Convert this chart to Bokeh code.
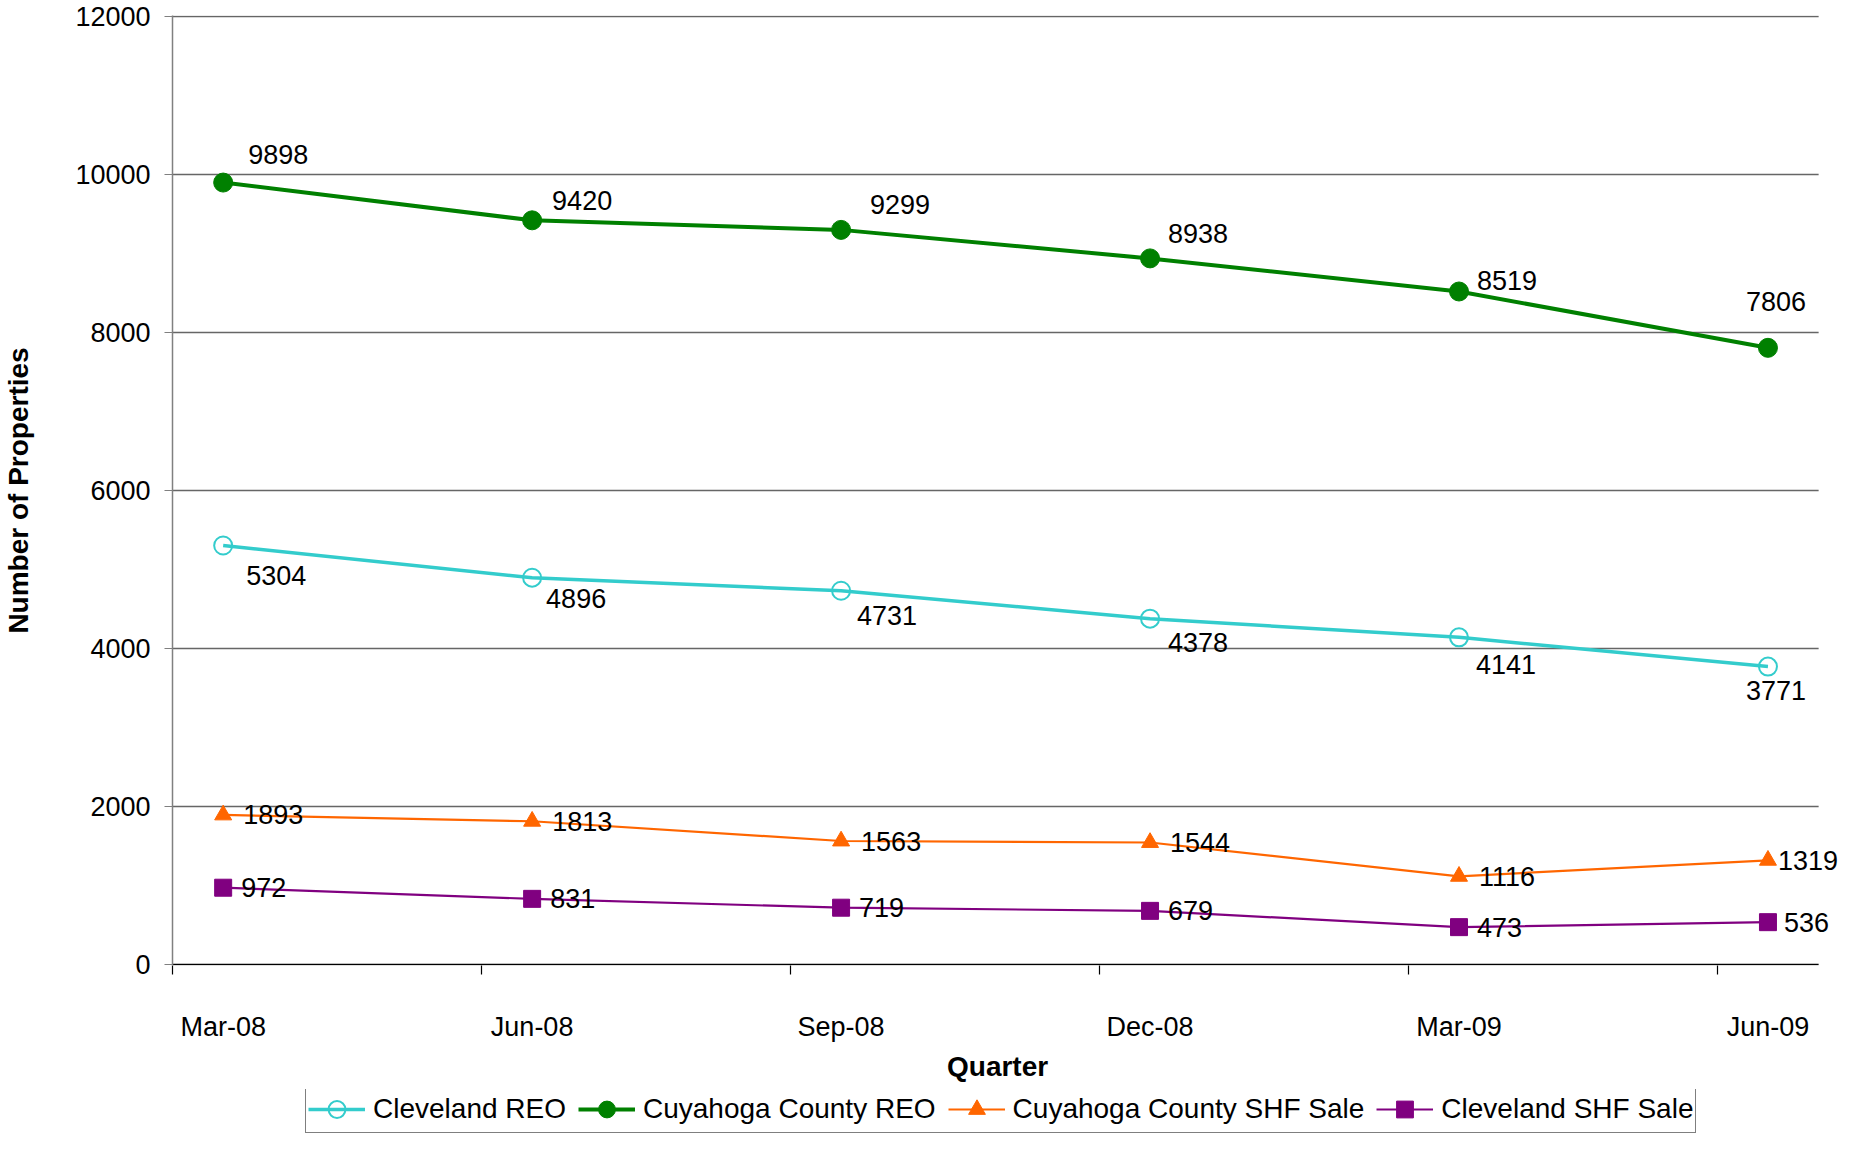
from bokeh.plotting import figure
from bokeh.layouts import column
from bokeh.models import (Range1d, FixedTicker, Legend, LegendItem, NumeralTickFormatter,
                          ColumnDataSource, LabelSet, Title)
from bokeh.core.properties import value
from bokeh.embed import file_html
from bokeh.resources import INLINE

quarters = ["Mar-08", "Jun-08", "Sep-08", "Dec-08", "Mar-09", "Jun-09"]
cleveland_reo = [5304, 4896, 4731, 4378, 4141, 3771]
cuyahoga_reo = [9898, 9420, 9299, 8938, 8519, 7806]
cuyahoga_shf = [1893, 1813, 1563, 1544, 1116, 1319]
cleveland_shf = [972, 831, 719, 679, 473, 536]
y_ticks = [0, 2000, 4000, 6000, 8000, 10000, 12000]
series_names = ["Cleveland REO", "Cuyahoga County REO", "Cuyahoga County SHF Sale", "Cleveland SHF Sale"]

FONT = "Liberation Sans"
x = list(range(len(quarters)))
pad = 0.164                      # gap between first tick mark and first point (category units)
px_per_unit = 311.0              # horizontal scale
EXTRA_RIGHT = 20                 # frame continues past the axis end so that labels fit
x_start = -pad
x_end_axis = len(quarters) - 1 + pad
x_end = x_end_axis + EXTRA_RIGHT / px_per_unit
y_px = 12000 / 949.0             # one pixel in data units

W = 1838
H_MAIN = 1089
H_LEG = 44

p = figure(width=W, height=H_MAIN, output_backend="svg", toolbar_location=None,
           x_range=Range1d(x_start, x_end), y_range=Range1d(-y_px, 12000 + y_px),
           min_border_left=161, min_border_right=0, min_border_top=15, min_border_bottom=124)
p.outline_line_color = None
p.background_fill_color = "white"
p.xgrid.visible = False
p.ygrid.visible = False

# x axis
xa = p.xaxis[0]
xa.ticker = FixedTicker(ticks=x, minor_ticks=[i - pad for i in x])
xa.major_label_overrides = {i: q for i, q in zip(x, quarters)}
xa.major_tick_line_color = None
xa.major_tick_out = 0
xa.major_tick_in = 0
xa.minor_tick_line_color = "black"
xa.minor_tick_line_width = 1.2
xa.minor_tick_out = 9
xa.minor_tick_in = 0
xa.axis_line_color = None
xa.major_label_standoff = 37
xa.major_label_text_font = FONT
xa.major_label_text_font_size = "27px"
xa.major_label_text_color = "black"

# axis title centred under the axis line (not under the wider frame)
axis_len_px = (x_end_axis - x_start) * px_per_unit
p.add_layout(Title(text="Quarter", align="left", offset=axis_len_px / 2 - 54,
                   text_font=FONT, text_font_style="bold", text_font_size="28px",
                   text_color="black", standoff=8), "below")

# y axis
ya = p.yaxis[0]
ya.ticker = FixedTicker(ticks=y_ticks)
ya.formatter = NumeralTickFormatter(format="0")
ya.axis_line_color = "#808080"
ya.axis_line_width = 1.5
ya.major_tick_line_color = "#808080"
ya.major_tick_line_width = 1.2
ya.major_tick_out = 8
ya.major_tick_in = 0
ya.minor_tick_line_color = None
ya.major_label_standoff = 14
ya.major_label_text_font = FONT
ya.major_label_text_font_size = "27px"
ya.major_label_text_color = "black"
ya.axis_label = "Number of Properties"
ya.axis_label_text_font = FONT
ya.axis_label_text_font_style = "bold"
ya.axis_label_text_font_size = "28px"
ya.axis_label_text_color = "black"
ya.axis_label_standoff = 38

# horizontal gridlines (end where the category axis ends) and the category axis line
grid_y = y_ticks[1:]
p.segment(x0=[x_start] * len(grid_y), x1=[x_end_axis] * len(grid_y), y0=grid_y, y1=grid_y,
          line_color="#666666", line_width=1.3)
p.segment(x0=[x_start], x1=[x_end_axis], y0=[y_ticks[0]], y1=[y_ticks[0]],
          line_color="black", line_width=1.5)

C_CLE_REO = "#33CCCC"
C_CUY_REO = "#008000"
C_CUY_SHF = "#FF6600"
C_CLE_SHF = "#800080"

styles = [
    dict(line=dict(line_color=C_CLE_REO, line_width=3.5),
         marker=dict(marker="circle", size=18, fill_color=None, line_color=C_CLE_REO, line_width=2)),
    dict(line=dict(line_color=C_CUY_REO, line_width=4),
         marker=dict(marker="circle", size=19, fill_color=C_CUY_REO, line_color=C_CUY_REO)),
    dict(line=dict(line_color=C_CUY_SHF, line_width=2.2),
         marker=dict(marker="triangle", size=17, fill_color=C_CUY_SHF, line_color=C_CUY_SHF)),
    dict(line=dict(line_color=C_CLE_SHF, line_width=2.2),
         marker=dict(marker="square", size=17, fill_color=C_CLE_SHF, line_color=C_CLE_SHF)),
]
series = [cleveland_reo, cuyahoga_reo, cuyahoga_shf, cleveland_shf]

for idx in [2, 3, 0, 1]:
    p.line(x, series[idx], **styles[idx]["line"])
    p.scatter(x, series[idx], **styles[idx]["marker"])

def labels(vals, dx, dy, align):
    src = ColumnDataSource(dict(x=x, y=vals, t=[str(v) for v in vals], dx=dx, dy=dy))
    p.add_layout(LabelSet(x="x", y="y", text="t", x_offset="dx", y_offset="dy", source=src,
                          text_align=align, text_baseline="middle", text_font=value(FONT),
                          text_font_size=value("27px"), text_color=value("black")))

labels(cuyahoga_reo, [55, 50, 59, 48, 48, 8], [28, 20, 25, 25, 11, 46], "center")
labels(cleveland_reo, [53, 44, 46, 48, 47, 8], [-30, -21, -25, -24, -27, -24], "center")
labels(cuyahoga_shf, [20, 20, 20, 20, 20, 10], [0] * 6, "left")
labels(cleveland_shf, [18, 18, 18, 18, 18, 16], [0] * 6, "left")

# legend strip below the chart (its frame is aligned with the chart frame);
# the series are drawn there outside the visible range only to supply legend glyphs
p2 = figure(width=W, height=H_LEG, output_backend="svg", toolbar_location=None,
            x_range=Range1d(0, 1), y_range=Range1d(-2, -1),
            x_axis_location=None, y_axis_location=None, min_border=0)
p2.outline_line_color = None
p2.xgrid.visible = False
p2.ygrid.visible = False
items = []
for name, vals, st in zip(series_names, series, styles):
    rl = p2.line(x, vals, **st["line"])
    rm = p2.scatter(x, vals, **st["marker"])
    items.append(LegendItem(label=name, renderers=[rl, rm]))
legend = Legend(items=items, orientation="horizontal", location=(133, 0),
                border_line_color="black", border_line_width=1.2,
                label_text_font=FONT, label_text_font_size="28px", label_text_color="black",
                glyph_width=57, glyph_height=42, label_height=42, label_standoff=8, spacing=12,
                padding=2, margin=0)
p2.add_layout(legend, "center")

layout = column(p, p2, spacing=0)
open("out.html", "w").write(file_html(layout, INLINE))
